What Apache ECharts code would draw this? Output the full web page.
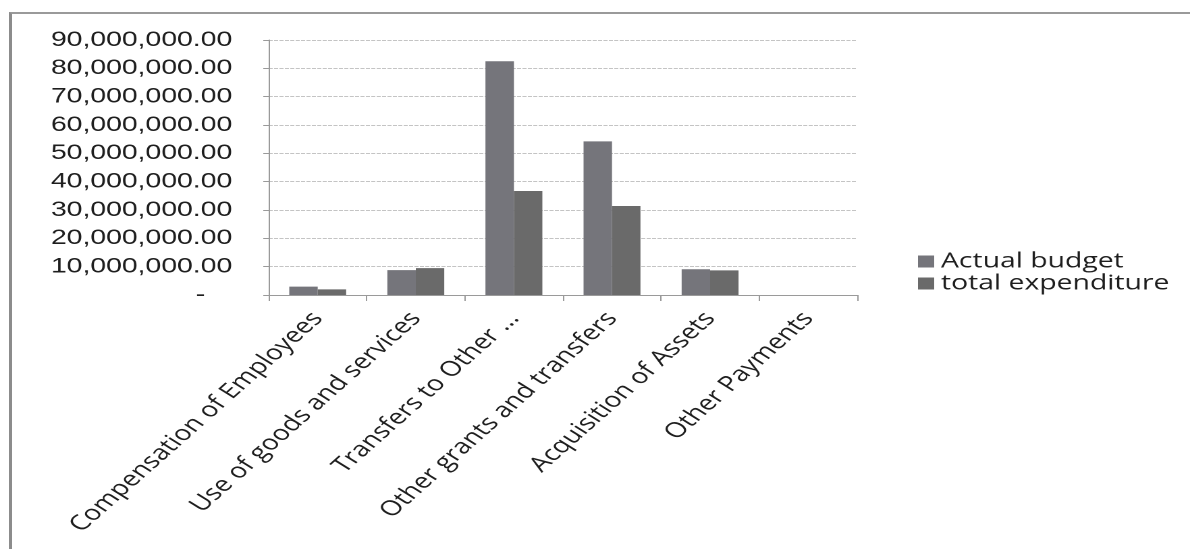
<!DOCTYPE html>
<html>
<head>
<meta charset="utf-8">
<script src="https://cdn.jsdelivr.net/npm/echarts@6/dist/echarts.min.js"></script>
<style>
  html, body { margin: 0; padding: 0; background: #fff; overflow: hidden; }
  #page { position: relative; width: 1190px; height: 549px; overflow: hidden; background: #fff; }
  #frame { position: absolute; left: 9px; top: 12px; width: 1200px; height: 560px;
           border-left: 3px solid #8c8c8c; border-top: 2px solid #9a9a9a; }
  #chart { position: absolute; left: 0; top: 0; width: 881px; height: 549px;
           transform: scaleX(1.35); transform-origin: 0 0; }
</style>
</head>
<body>
<div id="page">
  <div id="frame"></div>
  <div id="chart"></div>
</div>
<script>
const categories = [
  'Compensation of Employees',
  'Use of goods and services',
  'Transfers to Other ...',
  'Other grants and transfers',
  'Acquisition of Assets',
  'Other Payments'
];
const actualBudget = [2950000, 8800000, 82500000, 54200000, 9100000, 0];
const totalExpenditure = [2000000, 9500000, 36700000, 31400000, 8700000, 0];
const seriesNames = ['Actual budget', 'total expenditure'];
const yMax = 90000000;
const yStep = 10000000;

function fmt(v) {
  if (v === 0) return '{z|-}';
  return Number(v).toLocaleString('en-US', {minimumFractionDigits: 2, maximumFractionDigits: 2});
}

const chart = echarts.init(document.getElementById('chart'), null, {devicePixelRatio: 2});
chart.setOption({
  animation: false,
  backgroundColor: 'transparent',
  grid: { left: 199, right: 246, top: 40, bottom: 254, containLabel: false },
  legend: {
    orient: 'vertical',
    left: 675,
    top: 246,
    itemWidth: 12,
    itemHeight: 12,
    itemGap: 1,
    icon: 'rect',
    textStyle: { fontFamily: 'Open Sans', fontSize: 21, color: '#1e1e1e' },
    data: seriesNames
  },
  xAxis: {
    type: 'category',
    data: categories,
    axisLine: { lineStyle: { color: '#9a9a9a', width: 1 } },
    axisTick: { show: true, length: 6, alignWithLabel: false, lineStyle: { color: '#9a9a9a' } },
    axisLabel: {
      rotate: 50,
      interval: 0,
      margin: 20,
      padding: [8, 0, 0, 0],
      fontFamily: 'Open Sans',
      fontSize: 21,
      color: '#1e1e1e'
    }
  },
  yAxis: {
    type: 'value',
    min: 0,
    max: yMax,
    interval: yStep,
    axisLine: { show: true, lineStyle: { color: '#9a9a9a', width: 1 } },
    axisTick: { show: true, length: 4, lineStyle: { color: '#9a9a9a' } },
    splitLine: { lineStyle: { color: '#c4c4c4', width: 1, type: [3, 1] } },
    axisLabel: {
      margin: 27,
      fontFamily: 'Liberation Sans',
      fontSize: 21,
      color: '#1e1e1e',
      formatter: fmt,
      rich: { z: { fontFamily: 'Liberation Sans', fontSize: 21, color: '#1e1e1e', padding: [0, 20, 0, 0] } }
    }
  },
  series: [
    {
      name: seriesNames[0],
      type: 'bar',
      data: actualBudget,
      barGap: '0%',
      barCategoryGap: '42%',
      itemStyle: { color: '#75757b' }
    },
    {
      name: seriesNames[1],
      type: 'bar',
      data: totalExpenditure,
      barGap: '0%',
      barCategoryGap: '42%',
      itemStyle: { color: '#6a6a6a' }
    }
  ]
});
</script>
</body>
</html>
